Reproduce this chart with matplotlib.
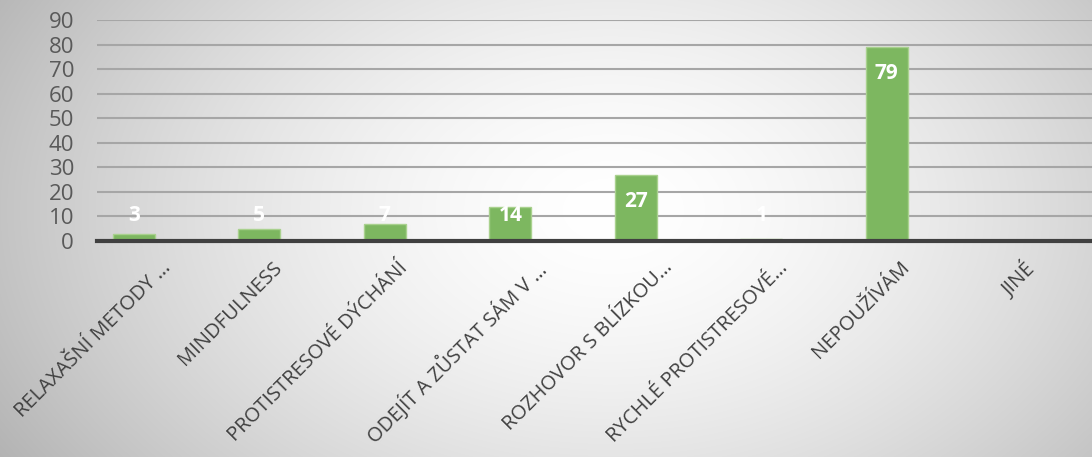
import numpy as np
import matplotlib
matplotlib.use('Agg')
import matplotlib.pyplot as plt
from matplotlib.transforms import ScaledTranslation

#--- chart data
categories = ['RELAXAŠNÍ METODY …', 'MINDFULNESS', 'PROTISTRESOVÉ DÝCHÁNÍ',
              'ODEJÍT A ZŮSTAT SÁM V …', 'ROZHOVOR S BLÍZKOU…',
              'RYCHLÉ PROTISTRESOVÉ…', 'NEPOUŽÍVÁM', 'JINÉ']
counts = [3, 5, 7, 14, 27, 1, 79, 0]
y_ticks = list(range(0, 100, 10))

plt.rcParams['font.family'] = ['Open Sans', 'DejaVu Sans']

W, H, dpi = 1092, 457, 100
fig = plt.figure(figsize=(W / dpi, H / dpi), dpi=dpi)

#--- radial gray background
bg = fig.add_axes([0, 0, 1, 1], zorder=-10)
yy, xx = np.mgrid[0:H, 0:W]
r = np.sqrt(((xx - 610) / 640.0) ** 2 + ((yy - 210) / 430.0) ** 2)
shade = 1.0 - 0.25 * np.clip(r, 0, 1.2) ** 1.6
bg.imshow(np.dstack([shade] * 3), aspect='auto', extent=[0, W, H, 0])
bg.axis('off')

#--- plot area
ax = fig.add_axes([97 / W, (H - 241) / H, 995 / W, 221 / H])
ax.patch.set_alpha(0)
x = np.arange(len(categories))
ax.bar(x, counts, width=0.335, color='#7db760', edgecolor='#a9d18e',
       linewidth=1, zorder=3)

ax.set_xlim(-0.293, 7.635)
ax.set_ylim(0, 90)
ax.set_yticks(y_ticks)
ax.yaxis.grid(True, color='#a6a6a6', linewidth=1.5, zorder=1)
ax.set_axisbelow(True)
for s in ['top', 'right', 'left']:
    ax.spines[s].set_visible(False)
ax.spines['bottom'].set_color('#404040')
ax.spines['bottom'].set_linewidth(3)
ax.spines['bottom'].set_zorder(4)
ax.tick_params(axis='y', length=0, pad=16.5, labelsize=16, labelcolor='#595959')
ax.tick_params(axis='x', length=0, pad=12, labelsize=14.5, labelcolor='#404040')

ax.set_xticks(x)
ax.set_xticklabels(categories, rotation=45, ha='right', va='top')
#--- shift rotated labels right; truncated ones sit a bit further out
for lab in ax.get_xticklabels():
    dx = 27 + (14 if lab.get_text().endswith(' …') or 'BLÍZKOU' in lab.get_text() else 0)
    if 'RYCHLÉ' in lab.get_text():
        dx += 4
    lab.set_transform(lab.get_transform() + ScaledTranslation(dx / dpi, 0, fig.dpi_scale_trans))

#--- value labels (inside end, kept off the axis for short bars)
for xi, v in zip(x, counts):
    if v <= 0:
        continue
    ax.annotate(str(v), xy=(xi, max(v, 21)), xytext=(0, -19),
                textcoords='offset points', ha='center', va='center',
                color='white', fontsize=15, fontweight='bold', zorder=5)

fig.savefig('out.png', dpi=dpi)
